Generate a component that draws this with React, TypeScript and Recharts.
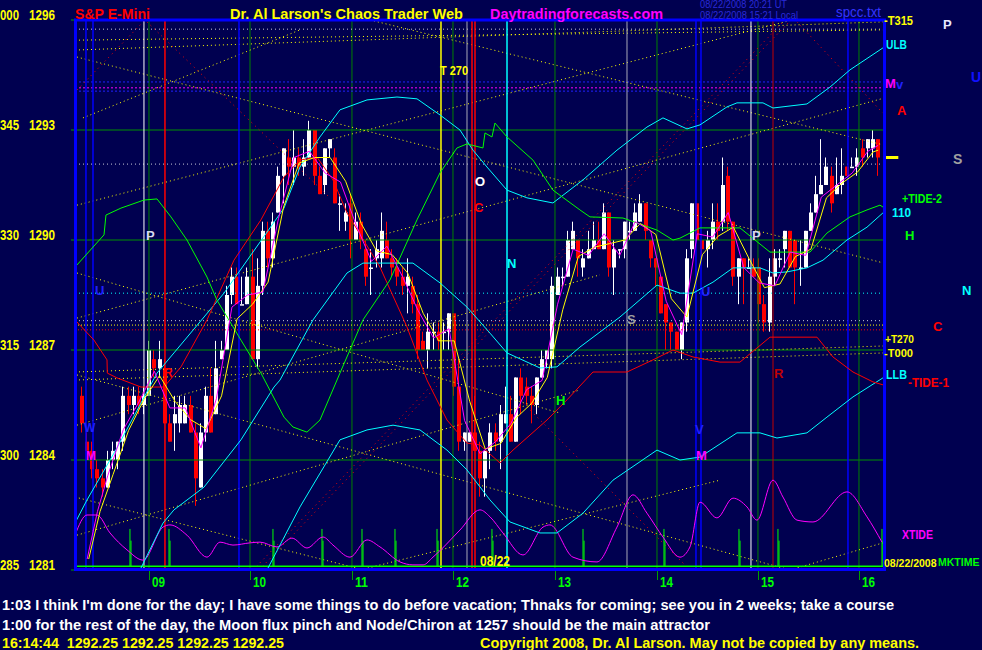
import React from "react";
import { Bar, ComposedChart, Line, ReferenceLine, XAxis, YAxis } from "recharts";

// 3-minute bars of the session, x value = bar number
const opens = [
  1285.75, 1284.5, 1284.25, 1283.75, 1283.5, 1283.25, 1284.0, 1284.0, 1284.5, 1285.75,
  1285.5, 1285.75, 1285.5, 1285.75, 1286.75, 1286.5, 1286.5, 1285.0, 1285.0, 1285.0,
  1285.0, 1285.5, 1284.75, 1283.25, 1284.75, 1285.75, 1285.25, 1286.75, 1287.0, 1288.5,
  1289.0, 1288.25, 1288.25, 1289.0, 1286.75, 1288.75, 1290.25, 1289.5, 1290.75, 1291.75,
  1292.25, 1292.0, 1292.25, 1292.0, 1292.25, 1293.0, 1291.75, 1291.5, 1292.5, 1292.25,
  1291.0, 1290.5, 1291.0, 1290.0, 1290.5, 1289.75, 1289.25, 1289.5, 1289.5, 1290.0,
  1289.5, 1289.25, 1289.0, 1288.75, 1288.75, 1288.25, 1287.25, 1287.0, 1287.5, 1287.5,
  1287.5, 1287.5, 1288.0, 1286.0, 1284.5, 1284.5, 1284.75, 1284.25, 1283.5, 1284.25,
  1284.75, 1284.5, 1285.0, 1285.25, 1284.5, 1286.25, 1286.0, 1285.75, 1285.5, 1286.25,
  1286.75, 1286.75, 1288.5, 1289.0, 1289.0, 1289.75, 1290.0, 1289.25, 1289.5, 1289.75,
  1290.0, 1289.75, 1290.75, 1289.25, 1289.75, 1289.75, 1290.25, 1290.25, 1290.5, 1291.0,
  1290.0, 1289.5, 1289.0, 1288.25, 1287.75, 1287.5, 1287.0, 1287.75, 1289.75, 1291.0,
  1290.0, 1289.75, 1290.0, 1290.5, 1290.5, 1291.75, 1290.5, 1289.0, 1289.5, 1289.25,
  1289.25, 1289.25, 1288.25, 1287.75, 1289.0, 1289.5, 1289.75, 1290.25, 1290.0, 1289.25,
  1289.25, 1290.25, 1290.75, 1291.25, 1291.5, 1291.75, 1291.25, 1291.5, 1292.0, 1292.0,
  1292.0, 1292.5, 1292.5, 1292.5, 1292.75,
];
const highs = [
  1286.0, 1284.75, 1284.5, 1284.0, 1283.75, 1284.25, 1284.5, 1284.5, 1286.0, 1286.0,
  1286.0, 1286.0, 1286.0, 1287.25, 1287.0, 1287.25, 1286.75, 1285.25, 1285.75, 1285.75,
  1285.75, 1285.75, 1285.0, 1285.0, 1286.0, 1286.5, 1287.25, 1287.25, 1288.75, 1289.25,
  1289.25, 1289.0, 1289.25, 1289.75, 1289.5, 1290.5, 1290.5, 1290.75, 1292.0, 1292.5,
  1292.75, 1293.0, 1292.5, 1292.75, 1293.25, 1293.0, 1292.0, 1292.5, 1292.75, 1292.5,
  1291.25, 1291.0, 1291.25, 1290.75, 1290.75, 1290.0, 1289.75, 1290.0, 1290.75, 1290.5,
  1289.75, 1289.5, 1289.25, 1289.5, 1289.0, 1288.5, 1287.5, 1288.0, 1287.75, 1287.75,
  1287.75, 1288.0, 1288.0, 1286.75, 1284.75, 1284.75, 1285.75, 1284.5, 1284.25, 1285.0,
  1285.0, 1285.5, 1286.0, 1285.75, 1286.25, 1286.5, 1286.25, 1286.0, 1286.25, 1287.0,
  1287.0, 1289.0, 1289.25, 1289.25, 1290.25, 1290.5, 1290.0, 1289.75, 1290.25, 1290.5,
  1290.5, 1291.0, 1290.75, 1290.0, 1289.75, 1290.5, 1290.5, 1291.0, 1291.25, 1291.0,
  1290.0, 1289.5, 1289.0, 1288.25, 1287.75, 1287.5, 1287.75, 1289.75, 1291.0, 1291.0,
  1290.0, 1290.25, 1291.0, 1291.0, 1292.25, 1292.0, 1290.5, 1289.5, 1289.5, 1289.5,
  1289.5, 1289.5, 1288.5, 1289.5, 1289.75, 1289.75, 1290.25, 1290.25, 1290.0, 1290.0,
  1290.25, 1291.0, 1291.75, 1292.75, 1292.25, 1292.0, 1292.25, 1292.5, 1292.0, 1292.25,
  1292.5, 1292.75, 1292.75, 1293.0, 1292.75,
];
const lows = [
  1284.75, 1284.25, 1283.5, 1283.25, 1283.0, 1283.25, 1283.75, 1283.75, 1284.25, 1285.25,
  1285.25, 1285.25, 1285.25, 1285.75, 1286.25, 1286.25, 1285.0, 1284.5, 1284.25, 1284.75,
  1285.0, 1284.75, 1282.75, 1283.25, 1284.5, 1284.75, 1285.25, 1286.75, 1287.0, 1288.25,
  1288.25, 1288.25, 1288.25, 1286.75, 1286.5, 1288.5, 1289.25, 1289.25, 1290.75, 1291.0,
  1291.5, 1291.5, 1291.75, 1291.75, 1292.25, 1291.5, 1291.25, 1291.25, 1292.25, 1291.0,
  1290.25, 1290.25, 1289.5, 1290.0, 1289.75, 1288.75, 1288.5, 1289.25, 1289.25, 1289.5,
  1289.0, 1288.75, 1288.5, 1288.0, 1288.0, 1286.75, 1287.0, 1286.5, 1287.0, 1287.0,
  1287.0, 1287.0, 1285.75, 1284.25, 1284.25, 1284.5, 1284.25, 1283.0, 1283.0, 1283.75,
  1284.25, 1283.75, 1285.0, 1284.5, 1284.5, 1285.25, 1285.5, 1285.0, 1285.25, 1286.25,
  1286.5, 1286.5, 1288.5, 1288.75, 1289.0, 1289.75, 1289.0, 1289.0, 1289.5, 1289.75,
  1289.75, 1289.75, 1289.0, 1288.5, 1289.5, 1289.5, 1290.0, 1290.25, 1290.5, 1290.0,
  1289.25, 1288.75, 1288.0, 1287.0, 1287.0, 1287.0, 1286.75, 1287.5, 1289.5, 1290.0,
  1289.5, 1289.25, 1289.75, 1290.0, 1290.25, 1290.25, 1288.75, 1288.25, 1288.25, 1289.25,
  1289.0, 1287.75, 1287.5, 1287.5, 1288.75, 1289.25, 1289.25, 1289.25, 1288.25, 1288.75,
  1289.25, 1290.25, 1290.75, 1291.25, 1291.5, 1290.75, 1291.25, 1291.25, 1291.75, 1292.0,
  1291.75, 1292.0, 1292.25, 1292.25, 1291.75,
];
const closes = [
  1285.0, 1284.25, 1283.75, 1283.5, 1283.25, 1284.0, 1284.25, 1284.5, 1285.75, 1285.5,
  1285.75, 1285.5, 1285.75, 1287.0, 1286.5, 1286.75, 1285.0, 1284.5, 1285.25, 1285.5,
  1285.5, 1284.75, 1283.5, 1284.75, 1285.75, 1284.75, 1286.5, 1287.0, 1288.5, 1289.0,
  1288.25, 1288.25, 1289.0, 1286.75, 1288.75, 1290.25, 1289.5, 1290.5, 1291.75, 1292.5,
  1292.0, 1292.25, 1292.0, 1292.25, 1293.0, 1291.75, 1291.25, 1292.5, 1292.75, 1291.0,
  1291.0, 1290.75, 1290.0, 1290.5, 1290.0, 1289.0, 1289.25, 1289.75, 1290.25, 1289.5,
  1289.25, 1289.0, 1288.75, 1289.0, 1288.25, 1287.0, 1287.0, 1287.5, 1287.5, 1287.25,
  1287.5, 1288.0, 1286.0, 1284.5, 1284.75, 1284.75, 1284.25, 1283.5, 1284.25, 1284.75,
  1284.5, 1285.25, 1285.25, 1284.5, 1286.25, 1285.75, 1285.75, 1285.5, 1286.25, 1286.75,
  1287.0, 1288.75, 1289.0, 1289.0, 1290.0, 1290.25, 1289.5, 1289.5, 1289.75, 1290.0,
  1289.75, 1290.75, 1289.25, 1289.75, 1289.75, 1290.5, 1290.25, 1290.75, 1291.0, 1290.25,
  1289.5, 1289.25, 1288.0, 1287.75, 1287.5, 1287.0, 1287.75, 1289.5, 1291.0, 1290.0,
  1289.75, 1290.0, 1290.5, 1290.25, 1291.5, 1290.5, 1289.0, 1289.5, 1289.25, 1289.25,
  1289.0, 1288.25, 1287.75, 1289.0, 1289.5, 1289.5, 1290.25, 1289.25, 1289.25, 1289.25,
  1290.25, 1290.75, 1291.25, 1291.5, 1292.0, 1291.0, 1291.5, 1291.75, 1291.75, 1292.0,
  1292.25, 1292.25, 1292.75, 1292.75, 1292.25,
];

const priceTicks = [1281, 1284, 1287, 1290, 1293, 1296];
const degreeLabels = ["285", "300", "315", "330", "345", "000"];
const gridLevels = [1284, 1287, 1290, 1293];
const hourTicks = [12.96, 32.5, 52.22, 71.76, 91.49, 111.22, 130.75, 150.29];
const hourLabels = ["09", "10", "11", "12", "13", "14", "15", "16"];

// [bar, price] points
const fastAvg = [
  [1, 1281.3], [3, 1282.6], [5, 1283.58], [8, 1284.83], [11, 1285.58], [14, 1286.42], [17, 1285.42],
  [20, 1285.42], [23, 1284.33], [26, 1285.67], [29, 1288.17], [32, 1288.5], [35, 1288.58], [38, 1290.58],
  [41, 1292.25], [44, 1292.42], [47, 1291.83], [50, 1291.58], [53, 1290.42], [56, 1289.42], [59, 1289.83],
  [62, 1289.0], [65, 1288.08], [68, 1287.33], [71, 1287.58], [74, 1285.08], [77, 1284.17], [80, 1284.5],
  [83, 1285.0], [86, 1285.92], [89, 1286.17], [92, 1288.25], [95, 1289.75], [98, 1289.58], [101, 1290.17],
  [104, 1289.58], [107, 1290.5], [110, 1290.25], [113, 1288.33], [116, 1287.42], [119, 1290.17], [122, 1290.08],
  [125, 1290.75], [128, 1289.25], [131, 1288.83], [134, 1288.75], [137, 1289.67], [140, 1289.58], [143, 1291.17],
  [146, 1291.5], [149, 1291.83], [152, 1292.42], [154, 1292.58],
];
const slowAvg = [
  [1.3, 1281.3], [3.5, 1282.6], [6, 1283.6], [9, 1284.8], [12, 1285.65], [15, 1286.3], [18, 1285.6],
  [21, 1285.1], [24, 1284.85], [27, 1285.75], [30, 1287.85], [33, 1288.25], [36, 1288.85], [39, 1290.9],
  [42, 1292.1], [45, 1292.25], [48, 1292.25], [51, 1291.6], [54, 1290.45], [57, 1289.7], [60, 1289.6],
  [63, 1289.1], [66, 1288.0], [69, 1287.25], [72, 1287.25], [75, 1285.6], [78, 1284.3], [81, 1284.45],
  [84, 1285.15], [87, 1285.55], [90, 1286.25], [93, 1288.1], [96, 1289.55], [99, 1289.8], [102, 1289.9],
  [105, 1290.0], [108, 1290.45], [111, 1290.15], [114, 1288.4], [117, 1287.9], [120, 1289.6], [123, 1290.1],
  [126, 1290.35], [129, 1289.5], [132, 1288.7], [135, 1288.8], [138, 1289.55], [141, 1289.75], [144, 1291.15],
  [147, 1291.55], [150, 1291.85], [153, 1292.4], [154, 1292.45],
];
const upperBand = [
  [-1.35, 1282.28], [0.97, 1282.91], [6.77, 1284.33], [14.51, 1286.37], [17.79, 1286.92], [27.47, 1288.55],
  [39.07, 1290.87], [42.17, 1291.99], [46.03, 1292.81], [49.9, 1293.55], [55.13, 1293.82], [60.93, 1293.9],
  [64.8, 1293.85], [69.25, 1293.41], [73.11, 1293.0], [75.63, 1292.45], [78.34, 1291.99], [82.21, 1291.36],
  [86.07, 1291.15], [91.1, 1291.01], [96.91, 1291.64], [103.48, 1292.45], [109.28, 1293.08], [112.38, 1293.33],
  [117.02, 1293.03], [119.54, 1293.14], [124.76, 1293.63], [126.69, 1293.74], [131.72, 1293.74], [133.66, 1293.6],
  [140.23, 1293.71], [144.68, 1294.17], [148.55, 1294.64], [154.93, 1295.24],
];
const midBand = [
  [11.22, 1281.0], [15.67, 1282.28], [17.79, 1282.64], [23.6, 1283.26], [30.75, 1284.55], [37.14, 1285.99],
  [38.3, 1286.18], [44.68, 1287.82], [51.26, 1289.1], [54.35, 1289.37], [64.02, 1289.37], [69.25, 1288.83],
  [74.47, 1288.17], [78.92, 1287.46], [82.21, 1286.92], [88.59, 1286.51], [91.88, 1286.54], [96.32, 1287.08],
  [104.06, 1287.9], [111.22, 1288.77], [115.67, 1288.55], [118.18, 1288.55], [122.05, 1288.85], [125.92, 1289.24],
  [131.14, 1289.24], [133.66, 1289.1], [136.36, 1289.13], [140.23, 1289.24], [143.33, 1289.45], [147.97, 1290.0],
  [151.84, 1290.35], [154.93, 1290.74],
];
const lowerBand = [
  [35.78, 1281.0], [42.17, 1282.72], [49.9, 1284.55], [55.13, 1284.82], [60.15, 1284.95], [65.38, 1284.82],
  [70.6, 1284.27], [74.47, 1283.73], [78.92, 1282.91], [82.79, 1282.31], [88.59, 1282.01], [91.88, 1282.01],
  [96.91, 1282.55], [102.71, 1283.45], [111.22, 1284.27], [115.67, 1284.0], [119.54, 1284.08], [126.69, 1284.74],
  [131.14, 1284.74], [134.43, 1284.6], [140.23, 1284.74], [144.1, 1285.17], [149.13, 1285.72], [154.93, 1286.24],
];
const tideOne = [
  [-1.35, 1287.82], [2.32, 1287.27], [4.84, 1286.73], [4.9, 1286.37], [6.77, 1286.24], [11.41, 1285.99],
  [15.86, 1285.99], [19.15, 1286.54], [24.18, 1287.82], [29.4, 1289.45], [34.62, 1290.55], [39.07, 1291.72],
  [42.17, 1292.18], [45.45, 1292.26], [48.55, 1291.64], [51.26, 1290.74], [57.64, 1289.26], [62.86, 1287.63],
  [66.73, 1286.18], [70.6, 1285.09], [74.47, 1284.46], [76.98, 1284.41], [80.85, 1283.92], [83.37, 1284.27],
  [89.94, 1285.09], [93.81, 1285.64], [98.84, 1286.4], [105.42, 1286.4], [110.44, 1286.73], [114.31, 1287.0],
  [118.18, 1286.81], [123.4, 1286.67], [127.27, 1286.67], [133.08, 1287.35], [142.17, 1287.35], [145.26, 1286.81],
  [149.13, 1286.4], [153.0, 1286.13], [154.93, 1286.05],
];
const tideTwo = [
  [-1.35, 1289.26], [4.26, 1290.14], [4.64, 1290.68], [7.54, 1290.87], [11.99, 1291.09], [14.51, 1291.12],
  [17.21, 1290.63], [20.31, 1290.0], [24.18, 1288.99], [26.11, 1288.36], [30.75, 1287.27], [34.62, 1286.37],
  [39.07, 1285.17], [40.81, 1284.9], [43.52, 1284.76], [46.03, 1285.09], [49.9, 1286.37], [54.35, 1287.82],
  [59.57, 1288.91], [64.8, 1290.55], [69.25, 1291.83], [72.53, 1292.51], [74.47, 1292.62], [77.56, 1292.51],
  [77.95, 1292.92], [79.3, 1292.81], [79.88, 1293.19], [82.21, 1292.81], [87.23, 1292.18], [91.1, 1291.36],
  [96.32, 1290.82], [98.26, 1290.63], [104.64, 1290.6], [111.22, 1290.27], [114.31, 1290.0], [115.67, 1290.05],
  [119.54, 1290.33], [127.27, 1290.33], [133.08, 1289.67], [140.81, 1289.67], [144.1, 1290.19], [148.55, 1290.63],
  [151.84, 1290.82], [154.35, 1290.95], [154.93, 1290.9],
];
const xtide = [
  [-1.35, 1281.95], [0.97, 1282.5], [2.9, 1282.5], [5.42, 1282.01], [8.7, 1281.55], [11.8, 1281.27],
  [15.67, 1282.17], [17.02, 1282.23], [20.31, 1281.95], [24.18, 1281.35], [26.69, 1281.76], [29.21, 1281.68],
  [32.5, 1281.74], [34.43, 1281.76], [37.72, 1281.63], [40.62, 1281.87], [43.52, 1281.6], [46.62, 1281.9],
  [48.55, 1281.68], [51.84, 1281.35], [55.13, 1281.82], [57.64, 1281.63], [61.51, 1281.22], [64.02, 1281.14],
  [66.0, 1281.14], [67.89, 1281.35], [73.11, 1282.09], [76.98, 1282.64], [78.92, 1282.45], [81.43, 1282.01],
  [85.3, 1281.41], [89.17, 1282.17], [90.52, 1282.23], [94.97, 1281.35], [99.61, 1281.22], [103.48, 1282.17],
  [106.58, 1283.05], [109.28, 1282.55], [112.38, 1281.9], [115.67, 1281.35], [117.6, 1281.63], [119.54, 1282.85],
  [122.82, 1282.42], [125.92, 1282.96], [128.63, 1282.72], [130.56, 1282.36], [133.66, 1283.45], [135.59, 1282.99],
  [138.3, 1282.36], [141.39, 1282.31], [147.97, 1283.13], [151.84, 1282.45], [154.74, 1281.76],
];
const timeSpikes = [9.28, 16.83, 36.94, 46.42, 54.16, 60.54, 68.67, 79.3, 96.91, 112.57, 127.08, 134.62, 154.74];
const spikeBase = 1281.1;
const spikeTop = 1282.12;
const spikeShoulder = 1281.8;

const blueTimes = [0.77, 2.13, 30.37, 118.76, 119.73, 148.16];
const whiteTimes = [11.99, 129.4];
const grayTimes = [74.47, 105.42];
const redTimes = [16.05, 75.44, 76.02];
const darkRedTimes = [133.66];
const yellowTimes = [69.44];
const cyanTimes = [82.21];

const whiteLevels = [1295.75, 1292.07, 1287.8];
const blueLevels = [1294.31, 1294.06];
const magentaLevels = [1294.15];
const cyanLevels = [1288.55];
const yellowLevels = [1287.68];
const redLevels = [1287.55];

// flux lines: [bar1, price1, bar2, price2]
const yellowFlux = [
  [-0.97, 1294.99, 155.13, 1289.37], [-0.97, 1290.95, 137.3, 1296.0], [0.19, 1293.33, 42.17, 1295.73],
  [55.71, 1296.0, 155.13, 1292.59], [-0.97, 1287.87, 155.13, 1293.87], [-1.35, 1282.99, 53.19, 1281.05],
  [53.77, 1281.0, 123.4, 1283.45], [-0.97, 1286.32, 136.94, 1281.0], [136.94, 1281.0, 154.93, 1281.74],
  [-0.97, 1289.1, 92.46, 1285.28], [-0.97, 1284.95, 100.19, 1289.05], [-0.97, 1281.95, 96.32, 1285.91],
  [-1.35, 1295.18, 155.13, 1295.95], [-1.35, 1295.45, 155.13, 1295.73], [-1.35, 1286.4, 155.13, 1287.11],
  [-1.35, 1286.18, 155.13, 1286.92],
];
const redFlux = [
  [-0.97, 1294.09, 12.19, 1296.0], [12.57, 1295.95, 47.97, 1291.15], [33.08, 1281.0, 135.98, 1296.0],
  [34.24, 1281.0, 137.14, 1296.0], [138.3, 1295.95, 154.93, 1293.46], [84.72, 1285.64, 117.6, 1281.0],
];

const lastPrice = closes[closes.length - 1];

const BG = "#000050";
const SANS = "'Liberation Sans', Arial, sans-serif";
const NARROW = "'Liberation Sans Narrow', 'Liberation Sans', Arial, sans-serif";

const texts = [
  { t: "S&P E-Mini", x: 75, y: 19, c: "#ff0000", s: 15, w: 75 },
  { t: "Dr. Al Larson's Chaos Trader Web", x: 230, y: 19, c: "#ffff00", s: 15, w: 233 },
  { t: "Daytradingforecasts.com", x: 490, y: 19, c: "#ff00ff", s: 15, w: 173 },
  { t: "08/22/2008 20:21 UT", x: 700, y: 8, c: "#2a2ad8", s: 10, w: 87, n: true },
  { t: "08/22/2008 15:21 Local", x: 700, y: 19, c: "#2a2ad8", s: 10, w: 98, n: true },
  { t: "spcc.txt", x: 836, y: 17, c: "#3434ff", s: 15, w: 45, n: true },
  { t: "-T315", x: 884, y: 25, c: "#ffff00", s: 13, w: 29 },
  { t: "ULB", x: 886, y: 49, c: "#00ffff", s: 13, w: 21 },
  { t: "M", x: 885, y: 88, c: "#ff00ff", s: 13 },
  { t: "v", x: 896, y: 89, c: "#2020ff", s: 13 },
  { t: "A", x: 897, y: 115, c: "#ff0000", s: 13 },
  { t: "P", x: 943, y: 29, c: "#e8e8ff", s: 13 },
  { t: "U", x: 971, y: 82, c: "#1010ff", s: 14 },
  { t: "S", x: 953, y: 164, c: "#a0a0a0", s: 14 },
  { t: "+TIDE-2", x: 902, y: 203, c: "#00ff00", s: 12, w: 40 },
  { t: "110", x: 892, y: 217, c: "#00ffff", s: 12, w: 19 },
  { t: "H", x: 905, y: 240, c: "#00ff00", s: 13 },
  { t: "N", x: 962, y: 295, c: "#00ffff", s: 13 },
  { t: "C", x: 933, y: 331, c: "#ff0000", s: 13 },
  { t: "+T270", x: 885, y: 343, c: "#ffff00", s: 11, w: 29 },
  { t: "-T000", x: 884, y: 357, c: "#ffff00", s: 11, w: 29 },
  { t: "LLB", x: 886, y: 379, c: "#00ffff", s: 13, w: 21 },
  { t: "-TIDE-1", x: 908, y: 387, c: "#ff0000", s: 13, w: 41 },
  { t: "XTIDE", x: 902, y: 539, c: "#ff00ff", s: 13, w: 31 },
  { t: "08/22/2008", x: 884, y: 567, c: "#ffff00", s: 10.5 },
  { t: "MKTIME", x: 938, y: 566, c: "#00ff00", s: 10.5 },
  { t: "P", x: 146, y: 240, c: "#d8d8f0", s: 13 },
  { t: "U", x: 95, y: 295, c: "#2020ff", s: 13 },
  { t: "W", x: 84, y: 432, c: "#2020ff", s: 12 },
  { t: "M", x: 86, y: 460, c: "#ff00ff", s: 12 },
  { t: "R", x: 164, y: 377, c: "#ff0000", s: 12 },
  { t: "T 270", x: 440, y: 75, c: "#ffff00", s: 13, w: 28 },
  { t: "O", x: 475, y: 186, c: "#ffffff", s: 13 },
  { t: "C", x: 474, y: 212, c: "#ff0000", s: 13 },
  { t: "N", x: 507, y: 268, c: "#00ffff", s: 13 },
  { t: "H", x: 556, y: 405, c: "#00ff00", s: 13 },
  { t: "S", x: 627, y: 324, c: "#a0a0a0", s: 13 },
  { t: "U", x: 701, y: 296, c: "#2020ff", s: 13 },
  { t: "P", x: 752, y: 240, c: "#d8d8f0", s: 13 },
  { t: "R", x: 774, y: 378, c: "#c00000", s: 13 },
  { t: "V", x: 695, y: 434, c: "#2020ff", s: 13 },
  { t: "M", x: 696, y: 460, c: "#ff00ff", s: 13 },
  { t: "08/22", x: 480, y: 566, c: "#ffff00", s: 14, w: 30 },
  {
    t: "1:03 I think I'm done for the day; I have some things to do before vacation; Thnaks for coming; see you in 2 weeks; take a course",
    x: 2, y: 610, c: "#ffffff", s: 14, w: 892,
  },
  {
    t: "1:00 for the rest of the day, the Moon flux pinch and Node/Chiron at 1257 should be the main attractor",
    x: 2, y: 630, c: "#ffffff", s: 14, w: 708,
  },
  {
    t: `16:14:44  ${lastPrice.toFixed(2)} ${lastPrice.toFixed(2)} ${lastPrice.toFixed(2)} ${lastPrice.toFixed(2)}`,
    x: 2, y: 648, c: "#ffff00", s: 14, w: 282,
  },
  { t: "Copyright 2008, Dr. Al Larson. May not be copied by any means.", x: 480, y: 648, c: "#ffff00", s: 14, w: 439 },
];

const toPoints = (pts: number[][]) => pts.map(([i, p]) => ({ i, p }));

function Candle(props: any) {
  const { x, y, width, height, payload } = props;
  if (!payload || x == null) return null;
  const { o, h, l, c } = payload;
  const top = Math.min(y, y + height);
  const span = Math.abs(height);
  const k = h > l ? span / (h - l) : 0;
  const at = (v: number) => top + (h - v) * k;
  const color = c >= o ? "#ffffff" : "#ff0000";
  const cx = Math.round(x + width / 2);
  const bTop = at(Math.max(o, c));
  const bBot = at(Math.min(o, c));
  return (
    <g>
      <rect x={cx - 1} y={top} width={1} height={Math.max(1, span)} fill={color} />
      <rect x={cx - 2} y={bTop} width={4} height={Math.max(1.5, bBot - bTop)} fill={color} />
    </g>
  );
}

function PriceTick(props: any) {
  const { x, y, payload } = props;
  const k = priceTicks.indexOf(payload.value);
  return (
    <g fontFamily={NARROW} fontWeight="bold" fontSize={15} fill="#ffff00">
      <line x1={x - 4} x2={x} y1={y} y2={y} stroke="#00a000" />
      <text x={x - 75} y={y} textLength={19} lengthAdjust="spacingAndGlyphs">
        {degreeLabels[k]}
      </text>
      <text x={x - 46} y={y} textLength={26} lengthAdjust="spacingAndGlyphs">
        {payload.value}
      </text>
    </g>
  );
}

function HourTick(props: any) {
  const { x, y, payload } = props;
  const k = hourTicks.indexOf(payload.value);
  const px = Math.round(x) + 0.5;
  return (
    <g>
      <line x1={px} x2={px} y1={y} y2={y + 10} stroke="#00a000" />
      <text
        x={x + 3}
        y={y + 17}
        fill="#00ff00"
        fontFamily={SANS}
        fontWeight="bold"
        fontSize={14}
        textLength={13}
        lengthAdjust="spacingAndGlyphs"
      >
        {hourLabels[k]}
      </text>
    </g>
  );
}

function overlayLine(pts: number[][], color: string, key: string, curve: "linear" | "monotone" = "linear") {
  return (
    <Line
      key={key}
      data={toPoints(pts)}
      dataKey="p"
      type={curve}
      stroke={color}
      strokeWidth={1}
      dot={false}
      activeDot={false}
      isAnimationActive={false}
    />
  );
}

export default function App() {
  const candles = opens.map((o, i) => ({
    i,
    o,
    h: highs[i],
    l: lows[i],
    c: closes[i],
    range: [lows[i], highs[i]],
  }));

  const vLines = (xs: number[], color: string, w: number, tag: string) =>
    xs.map((v, n) => <ReferenceLine key={tag + n} x={v} stroke={color} strokeWidth={w} />);
  const hDots = (ys: number[], color: string, dash: string, tag: string) =>
    ys.map((v, n) => <ReferenceLine key={tag + n} y={v} stroke={color} strokeDasharray={dash} />);
  const flux = (segs: number[][], color: string, dash: string, tag: string) =>
    segs.map(([a, b, c, d], n) => (
      <ReferenceLine
        key={tag + n}
        segment={[
          { x: a, y: b },
          { x: c, y: d },
        ]}
        stroke={color}
        strokeDasharray={dash}
        ifOverflow="visible"
      />
    ));

  return (
    <div
      style={{
        position: "absolute",
        left: 0,
        top: 0,
        width: 982,
        height: 650,
        background: BG,
        overflow: "hidden",
      }}
    >
      <ComposedChart width={982} height={650} data={candles} margin={{ top: 20, right: 98, bottom: 0, left: 0 }}>
        <XAxis
          dataKey="i"
          type="number"
          domain={[-1.35, 155.13]}
          ticks={hourTicks}
          interval={0}
          height={80}
          tickSize={0}
          tickMargin={0}
          tickLine={false}
          axisLine={false}
          allowDataOverflow
          tick={<HourTick />}
        />
        <YAxis
          type="number"
          domain={[1281, 1296]}
          ticks={priceTicks}
          interval={0}
          width={75}
          tickSize={0}
          tickMargin={0}
          tickLine={false}
          axisLine={false}
          allowDataOverflow
          tick={<PriceTick />}
        />

        {gridLevels.map((v) => (
          <ReferenceLine key={"g" + v} y={v} stroke="#009000" />
        ))}
        {vLines(hourTicks, "#008000", 1, "hr")}
        {hDots(whiteLevels, "#c8c8d8", "1 3", "wl")}
        {hDots(blueLevels, "#2020ff", "2 2", "bl")}
        {hDots(magentaLevels, "#ff00ff", "2 2", "ml")}
        {hDots(cyanLevels, "#00ffff", "1 3", "cl")}
        {hDots(yellowLevels, "#ffff00", "1 2", "yl")}
        {hDots(redLevels, "#ff0000", "1 2", "rl")}
        {flux(yellowFlux, "#ffff00", "1 3", "yf")}
        {flux(redFlux, "#ff0000", "1 4", "rf")}
        {vLines(blueTimes, "#0000ff", 1.5, "bt")}
        {vLines(whiteTimes, "#ffffff", 1, "wt")}
        {vLines(grayTimes, "#a8a8b8", 1, "gt")}
        {vLines(redTimes, "#ff0000", 1.5, "rt")}
        {vLines(darkRedTimes, "#c00000", 1, "dt")}
        {vLines(yellowTimes, "#ffff00", 1.5, "yt")}
        {vLines(cyanTimes, "#00ffff", 1.5, "ct")}

        <ReferenceLine y={spikeBase} stroke="#00ff00" strokeWidth={1.5} />
        {timeSpikes.map((s, n) => (
          <ReferenceLine
            key={"sp" + n}
            segment={[
              { x: s, y: spikeBase },
              { x: s, y: spikeTop },
            ]}
            stroke="#00ff00"
          />
        ))}
        {timeSpikes.map((s, n) => (
          <ReferenceLine
            key={"ss" + n}
            segment={[
              { x: s + 0.2, y: spikeBase },
              { x: s + 0.2, y: spikeShoulder },
            ]}
            stroke="#00ff00"
          />
        ))}

        <Bar dataKey="range" barSize={4} isAnimationActive={false} shape={(p: any) => <Candle {...p} />} />

        {overlayLine(xtide, "#ff00ff", "xt", "monotone")}
        {overlayLine(upperBand, "#00ffff", "ub")}
        {overlayLine(midBand, "#00ffff", "mb")}
        {overlayLine(lowerBand, "#00ffff", "lb")}
        {overlayLine(tideOne, "#ff0000", "t1")}
        {overlayLine(tideTwo, "#00ff00", "t2")}
        {overlayLine(slowAvg, "#ffff00", "sa")}
        {overlayLine(fastAvg, "#ff00ff", "fa")}

        <ReferenceLine
          segment={[
            { x: 155.13, y: lastPrice },
            { x: 157.9, y: lastPrice },
          ]}
          stroke="#ffff00"
          strokeWidth={3}
          ifOverflow="visible"
        />
      </ComposedChart>

      <svg
        width={982}
        height={650}
        style={{ position: "absolute", left: 0, top: 0, pointerEvents: "none" }}
      >
        <rect x={75.5} y={20} width={809} height={549.5} fill="none" stroke="#0000ff" strokeWidth={3} />
        {texts.map((d, n) => (
          <text
            key={n}
            x={d.x}
            y={d.y}
            fill={d.c}
            fontFamily={SANS}
            fontWeight={d.n ? "normal" : "bold"}
            fontSize={d.s}
            textLength={d.w}
            lengthAdjust={d.w ? "spacingAndGlyphs" : undefined}
            style={{ whiteSpace: "pre" }}
          >
            {d.t}
          </text>
        ))}
      </svg>
    </div>
  );
}
